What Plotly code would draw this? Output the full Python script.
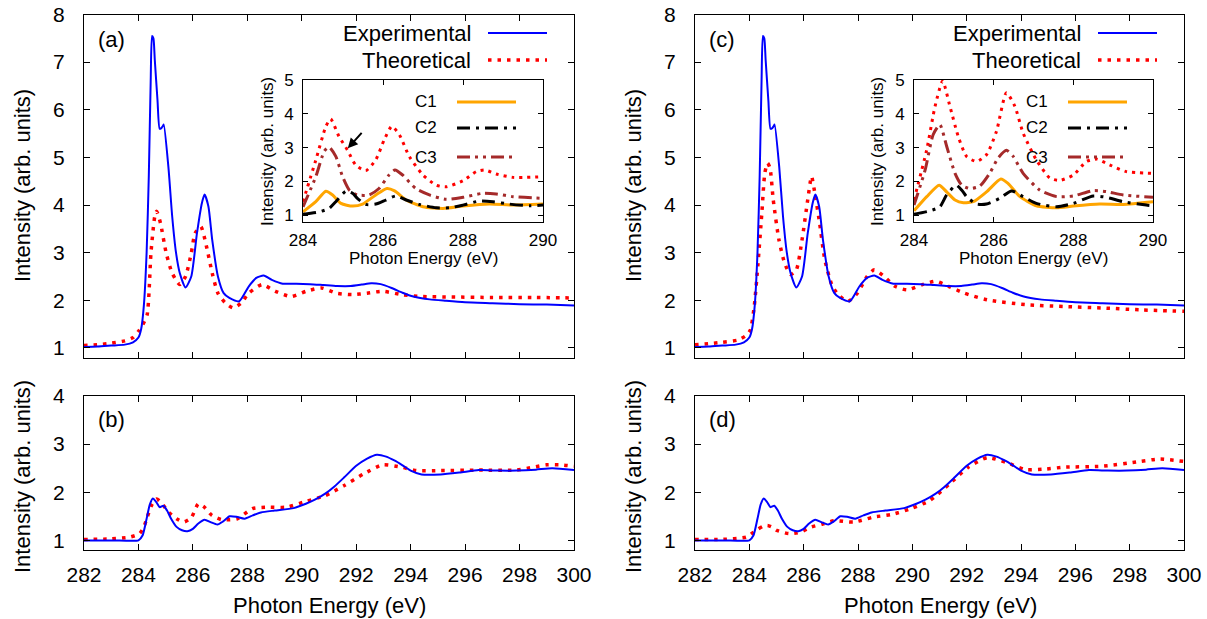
import plotly.graph_objects as go

# ---------------- data ----------------
# Experimental (same curve in panels a and c)
exp_top_x = [282, 282.5, 283, 283.5, 283.8, 284.0, 284.1, 284.2, 284.3, 284.38, 284.45, 284.5, 284.55,
             284.6, 284.7, 284.78, 284.85, 284.9, 284.93, 285.1, 285.24, 285.38, 285.52, 285.73, 285.94,
             286.15, 286.33, 286.43, 286.57, 286.71, 286.92, 287.13, 287.34, 287.7, 288.05, 288.33, 288.6,
             288.9, 289.3, 289.8, 290.3, 290.8, 291.3, 291.8, 292.2, 292.55, 292.9, 293.3, 293.7, 294.1,
             294.7, 295.3, 296, 297, 298, 299, 300]
exp_top_y = [1.02, 1.03, 1.05, 1.07, 1.12, 1.22, 1.40, 1.9, 3.0, 4.6, 6.6, 7.55, 7.5,
             7.05, 6.2, 5.6, 5.62, 5.66, 5.69, 4.8, 3.76, 3.0, 2.57, 2.27, 2.5,
             3.41, 4.04, 4.22, 3.97, 3.27, 2.5, 2.15, 2.05, 1.98, 2.29, 2.47, 2.52,
             2.43, 2.35, 2.35, 2.34, 2.32, 2.30, 2.30, 2.33, 2.36, 2.34, 2.26, 2.16, 2.08,
             2.02, 1.99, 1.96, 1.94, 1.92, 1.91, 1.89]

theo_a_x = [282, 282.5, 283, 283.5, 283.8, 284.0, 284.15, 284.32, 284.46, 284.6, 284.67, 284.81, 285.02,
            285.24, 285.52, 285.73, 285.94, 286.08, 286.29, 286.5, 286.71, 286.92, 287.2, 287.48, 287.77,
            288.05, 288.54, 289.03, 289.6, 290.16, 290.72, 291.28, 291.85, 292.4, 292.97, 293.67, 294.38,
            295.5, 297, 298.5, 300]
theo_a_y = [1.05, 1.07, 1.1, 1.15, 1.22, 1.35, 1.48, 1.7, 3.0, 3.76, 3.87, 3.62, 2.99,
            2.57, 2.33, 2.5, 2.99, 3.41, 3.55, 3.13, 2.57, 2.15, 1.94, 1.84, 1.94,
            2.15, 2.33, 2.19, 2.08, 2.19, 2.26, 2.15, 2.12, 2.15, 2.19, 2.12, 2.08,
            2.07, 2.06, 2.06, 2.05]

theo_c_x = [282, 282.5, 283, 283.6, 283.9, 284.04, 284.18, 284.32, 284.46, 284.57, 284.67, 284.76, 284.88,
            285.09, 285.3, 285.52, 285.73, 285.94, 286.15, 286.29, 286.43, 286.57, 286.78, 287.06, 287.34,
            287.63, 287.98, 288.33, 288.6, 288.96, 289.38, 289.8, 290.37, 290.86, 291.35, 291.92, 292.76,
            294.17, 295.57, 297, 298.4, 300]
theo_c_y = [1.07, 1.09, 1.12, 1.17, 1.27, 1.38, 1.87, 2.78, 3.83, 4.67, 4.88, 4.78, 4.11,
            3.27, 2.78, 2.54, 2.64, 3.27, 4.11, 4.6, 4.18, 3.69, 2.85, 2.29, 2.08,
            1.98, 2.15, 2.5, 2.64, 2.5, 2.29, 2.22, 2.33, 2.4, 2.29, 2.15, 2.01,
            1.91, 1.87, 1.84, 1.8, 1.77]

# Experimental (same curve in panels b and d)
exp_bot_x = [282, 283, 283.7, 284.0, 284.15, 284.3, 284.42, 284.53, 284.65, 284.78, 284.92, 285.05, 285.2,
             285.4, 285.6, 285.8, 286.0, 286.2, 286.43, 286.65, 286.9, 287.1, 287.35, 287.6, 287.9, 288.2,
             288.5, 289.0, 289.7, 290.15, 290.5, 290.86, 291.2, 291.56, 292.0, 292.4, 292.76, 293.1, 293.4,
             293.7, 294.0, 294.4, 295.1, 295.8, 296.5, 297.2, 297.9, 298.6, 299.2, 300]
exp_bot_y = [1.0, 1.0, 0.99, 1.0, 1.1, 1.45, 1.75, 1.87, 1.8, 1.69, 1.72, 1.62, 1.45,
             1.28, 1.21, 1.19, 1.24, 1.35, 1.43, 1.38, 1.33, 1.39, 1.5, 1.49, 1.45, 1.52,
             1.58, 1.62, 1.67, 1.76, 1.85, 1.97, 2.12, 2.31, 2.55, 2.7, 2.78, 2.74, 2.66,
             2.56, 2.45, 2.37, 2.37, 2.41, 2.46, 2.45, 2.45, 2.47, 2.5, 2.46]

theo_b_x = [282, 283, 283.7, 284.04, 284.2, 284.32, 284.5, 284.67, 284.85, 285.1, 285.4, 285.66, 285.94,
            286.2, 286.4, 286.7, 287.06, 287.63, 288.19, 288.75, 289.45, 290.15, 290.86, 291.56, 292.27,
            292.97, 293.67, 294.2, 295.1, 296.5, 297.9, 298.5, 299.0, 299.5, 300]
theo_b_y = [1.02, 1.03, 1.07, 1.14, 1.28, 1.48, 1.75, 1.86, 1.78, 1.59, 1.45, 1.38, 1.47,
            1.76, 1.7, 1.52, 1.43, 1.45, 1.66, 1.69, 1.69, 1.81, 1.93, 2.14, 2.38,
            2.57, 2.52, 2.45, 2.45, 2.46, 2.46, 2.52, 2.57, 2.57, 2.54]

theo_d_x = [282, 283, 283.9, 284.25, 284.5, 284.67, 284.85, 285.0, 285.45, 285.87, 286.29, 286.7, 287.13,
            287.84, 288.54, 289.25, 289.95, 290.65, 291.36, 292.06, 292.76, 293.46, 294.17, 294.87, 295.57,
            296.98, 298.38, 299.1, 300]
theo_d_y = [1.02, 1.02, 1.07, 1.21, 1.29, 1.31, 1.27, 1.21, 1.14, 1.17, 1.28, 1.34, 1.41,
            1.38, 1.48, 1.54, 1.66, 1.83, 2.17, 2.52, 2.72, 2.62, 2.47, 2.48, 2.52,
            2.54, 2.64, 2.69, 2.64]

# Inset (a)
ins_a_theo_x = [284, 284.32, 284.57, 284.69, 284.9, 285.11, 285.32, 285.57, 285.82, 286.03, 286.22, 286.41,
                286.66, 287.0, 287.33, 287.58, 288.0, 288.33, 288.54, 288.83, 289.25, 290]
ins_a_theo_y = [1.4, 2.63, 3.62, 3.85, 3.33, 2.93, 2.48, 2.32, 2.64, 3.23, 3.63, 3.38,
                2.73, 2.19, 1.89, 1.84, 2.02, 2.29, 2.34, 2.22, 2.12, 2.14]
ins_a_c1_x = [284, 284.32, 284.57, 284.74, 284.95, 285.24, 285.49, 285.82, 286.1, 286.29, 286.58, 287.0,
              287.5, 288.0, 288.66, 289.25, 290]
ins_a_c1_y = [1.1, 1.4, 1.71, 1.6, 1.35, 1.27, 1.33, 1.6, 1.79, 1.72, 1.45, 1.25,
              1.2, 1.27, 1.33, 1.3, 1.33]
ins_a_c2_x = [284, 284.4, 284.65, 284.82, 285.07, 285.24, 285.36, 285.57, 285.82, 286.07, 286.32, 286.58,
              286.91, 287.33, 287.66, 288.0, 288.41, 288.75, 289.16, 289.66, 290]
ins_a_c2_y = [1.03, 1.1, 1.2, 1.4, 1.71, 1.65, 1.5, 1.32, 1.33, 1.45, 1.57, 1.45,
              1.32, 1.22, 1.22, 1.3, 1.42, 1.4, 1.33, 1.28, 1.3]
ins_a_c3_x = [284, 284.32, 284.53, 284.65, 284.82, 284.99, 285.16, 285.36, 285.65, 285.9, 286.15, 286.3,
              286.49, 286.82, 287.16, 287.58, 288.0, 288.5, 288.83, 289.25, 290]
ins_a_c3_y = [1.25, 2.14, 2.89, 3.02, 2.74, 2.14, 1.74, 1.6, 1.6, 1.79, 2.19, 2.34,
              2.19, 1.79, 1.6, 1.47, 1.53, 1.65, 1.63, 1.55, 1.5]

# Inset (c)
ins_c_theo_x = [284, 284.32, 284.53, 284.72, 284.9, 285.11, 285.32, 285.57, 285.82, 286.07, 286.32, 286.53,
                286.74, 287.07, 287.41, 287.66, 288.0, 288.33, 288.58, 288.91, 289.33, 290]
ins_c_theo_y = [1.45, 2.94, 4.23, 4.97, 4.23, 3.33, 2.74, 2.59, 2.79, 3.48, 4.62, 4.23,
                3.43, 2.64, 2.1, 2.03, 2.19, 2.59, 2.66, 2.49, 2.29, 2.24]
ins_c_c1_x = [284, 284.32, 284.63, 284.82, 285.03, 285.24, 285.49, 285.82, 286.18, 286.36, 286.66, 287.07,
              287.58, 288.0, 288.66, 289.25, 290]
ins_c_c1_y = [1.13, 1.55, 1.89, 1.69, 1.45, 1.37, 1.4, 1.69, 2.07, 1.94, 1.55, 1.28,
              1.22, 1.27, 1.33, 1.32, 1.4]
ins_c_c2_x = [284, 284.4, 284.65, 284.82, 285.06, 285.2, 285.32, 285.57, 285.82, 286.15, 286.45, 286.74,
              287.07, 287.58, 288.0, 288.5, 288.83, 289.25, 289.83, 290]
ins_c_c2_y = [1.03, 1.13, 1.25, 1.6, 1.89, 1.74, 1.55, 1.33, 1.33, 1.5, 1.72, 1.55,
              1.35, 1.25, 1.35, 1.57, 1.53, 1.4, 1.3, 1.28]
ins_c_c3_x = [284, 284.28, 284.48, 284.65, 284.82, 285.03, 285.2, 285.4, 285.65, 285.9, 286.11, 286.32,
              286.49, 286.74, 287.16, 287.58, 288.0, 288.5, 288.83, 289.25, 290]
ins_c_c3_y = [1.3, 2.34, 3.38, 3.68, 3.04, 2.24, 1.89, 1.79, 1.86, 2.24, 2.69, 2.92,
              2.74, 2.24, 1.74, 1.55, 1.57, 1.73, 1.7, 1.6, 1.53]

main_xticks = [282, 284, 286, 288, 290, 292, 294, 296, 298, 300]
top_yticks = [1, 2, 3, 4, 5, 6, 7, 8]
bot_yticks = [1, 2, 3, 4]
inset_xticks = [284, 286, 288, 290]
inset_yticks = [1, 2, 3, 4, 5]

# ---------------- style ----------------
W, H = 1207, 619
FONT = "Liberation Sans, Arial, Helvetica, sans-serif"
BLUE = "#0000ff"
RED = "#ff0000"
ORANGE = "#ffa500"
BROWN = "#a52a2a"
RED_DASH = "3.5px,6px"
RED_DASH_IN = "3px,5px"
C2_DASH = "13px,6px,3px,6px"
C3_DASH = "13px,5px,3px,5px,3px,5px"


def px(xp):
    return xp / W


def py(yp):
    return 1 - yp / H


fig = go.Figure()


def add(x, y, axn, color, width, dash=None, smooth=0.6):
    xa = "x" if axn == 1 else f"x{axn}"
    ya = "y" if axn == 1 else f"y{axn}"
    fig.add_trace(go.Scatter(
        x=x, y=y, xaxis=xa, yaxis=ya, mode="lines",
        line=dict(color=color, width=width, dash=dash, shape="spline", smoothing=smooth),
        showlegend=False, hoverinfo="skip"))


# main panels
add(theo_a_x, theo_a_y, 1, RED, 3.5, RED_DASH)
add(exp_top_x, exp_top_y, 1, BLUE, 2)
add(theo_b_x, theo_b_y, 2, RED, 3.5, RED_DASH)
add(exp_bot_x, exp_bot_y, 2, BLUE, 2)
add(theo_c_x, theo_c_y, 3, RED, 3.5, RED_DASH)
add(exp_top_x, exp_top_y, 3, BLUE, 2)
add(theo_d_x, theo_d_y, 4, RED, 3.5, RED_DASH)
add(exp_bot_x, exp_bot_y, 4, BLUE, 2)
# insets
add(ins_a_theo_x, ins_a_theo_y, 5, RED, 3, RED_DASH_IN)
add(ins_a_c3_x, ins_a_c3_y, 5, BROWN, 3, C3_DASH)
add(ins_a_c1_x, ins_a_c1_y, 5, ORANGE, 3)
add(ins_a_c2_x, ins_a_c2_y, 5, "black", 3, C2_DASH)
add(ins_c_theo_x, ins_c_theo_y, 6, RED, 3, RED_DASH_IN)
add(ins_c_c3_x, ins_c_c3_y, 6, BROWN, 3, C3_DASH)
add(ins_c_c1_x, ins_c_c1_y, 6, ORANGE, 3)
add(ins_c_c2_x, ins_c_c2_y, 6, "black", 3, C2_DASH)


def axis(dom, rng, ticks, anchor, fs, showlabels=True, standoff=6, ticklen=6):
    return dict(domain=dom, range=rng, tickvals=ticks, anchor=anchor, showline=True,
                linecolor="black", linewidth=1, mirror="allticks", ticks="inside",
                ticklen=ticklen, tickcolor="black", tickwidth=1, showgrid=False,
                zeroline=False, showticklabels=showlabels, ticklabelstandoff=standoff,
                automargin=False,
                tickfont=dict(family=FONT, size=fs, color="black"))


XA_MAIN = [px(84), px(574)]
XC_MAIN = [px(695), px(1184)]
Y_TOP = [py(357.5), py(14.5)]
Y_BOT = [py(550), py(396)]

fig.update_layout(
    xaxis=axis(XA_MAIN, [282, 300], main_xticks, "y", 21, showlabels=False),
    yaxis=axis(Y_TOP, [0.8, 8], top_yticks, "x", 21, standoff=14),
    xaxis2=axis(XA_MAIN, [282, 300], main_xticks, "y2", 21, standoff=6),
    yaxis2=axis(Y_BOT, [0.8, 4], bot_yticks, "x2", 21, standoff=14),
    xaxis3=axis(XC_MAIN, [282, 300], main_xticks, "y3", 21, showlabels=False),
    yaxis3=axis(Y_TOP, [0.8, 8], top_yticks, "x3", 21, standoff=14),
    xaxis4=axis(XC_MAIN, [282, 300], main_xticks, "y4", 21, standoff=6),
    yaxis4=axis(Y_BOT, [0.8, 4], bot_yticks, "x4", 21, standoff=14),
    xaxis5=axis([px(303), px(543)], [284, 290], inset_xticks, "y5", 17, standoff=3, ticklen=5),
    yaxis5=axis([py(222), py(80)], [0.8, 5], inset_yticks, "x5", 17, standoff=5, ticklen=5),
    xaxis6=axis([px(914), px(1153)], [284, 290], inset_xticks, "y6", 17, standoff=3, ticklen=5),
    yaxis6=axis([py(222), py(80)], [0.8, 5], inset_yticks, "x6", 17, standoff=5, ticklen=5),
    width=W, height=H, margin=dict(l=0, r=0, t=0, b=0, pad=0, autoexpand=False),
    paper_bgcolor="white", plot_bgcolor="white",
    font=dict(family=FONT, color="black"),
    showlegend=False,
)

ann = []


def text(xp, yp, s, size, angle=0, xanchor="center"):
    ann.append(dict(x=px(xp), y=py(yp), xref="paper", yref="paper", text=s, showarrow=False,
                    textangle=angle, xanchor=xanchor, yanchor="middle",
                    font=dict(family=FONT, size=size, color="black")))


# axis titles
for cx in (22, 633):
    text(cx, 186, "Intensity (arb. units)", 22, -90)
    text(cx, 477, "Intensity (arb. units)", 22, -90)
text(329, 605, "Photon Energy (eV)", 22)
text(940, 605, "Photon Energy (eV)", 22)
# inset titles
text(268, 152, "Intensity (arb. units)", 17, -90)
text(878, 152, "Intensity (arb. units)", 17, -90)
text(423, 258, "Photon Energy (eV)", 17)
text(1033, 258, "Photon Energy (eV)", 17)
# panel labels
text(111, 39, "(a)", 22)
text(111, 420, "(b)", 22)
text(722, 39, "(c)", 22)
text(722, 420, "(d)", 22)

shapes = []


def sample(x0, x1, yp, color, width, dash=None):
    shapes.append(dict(type="line", xref="paper", yref="paper", x0=px(x0), x1=px(x1),
                       y0=py(yp), y1=py(yp), line=dict(color=color, width=width, dash=dash)))


# main legends
for right, lx0, lx1 in ((473, 488, 547), (1083, 1098, 1157)):
    text(right, 33, "Experimental", 22, xanchor="right")
    text(right, 60, "Theoretical", 22, xanchor="right")
    sample(lx0, lx1, 33, BLUE, 2)
    sample(lx0, lx1, 60, RED, 3.5, RED_DASH)

# inset legends
for right, lx0, lx1 in ((439, 457, 516), (1050, 1068, 1127)):
    text(right, 102, "C1", 17, xanchor="right")
    text(right, 128, "C2", 17, xanchor="right")
    text(right, 157, "C3", 17, xanchor="right")
    sample(lx0, lx1, 102, ORANGE, 3)
    sample(lx0, lx1, 128, "black", 3, C2_DASH)
    sample(lx0, lx1, 157, BROWN, 3, C3_DASH)

# arrow in inset (a)
ann.append(dict(x=285.12, y=2.98, ax=285.5, ay=3.48, xref="x5", yref="y5", axref="x5", ayref="y5",
                text="", showarrow=True, arrowhead=2, arrowsize=1, arrowwidth=2, arrowcolor="black"))

fig.update_layout(annotations=ann, shapes=shapes)

fig.write_html(
    "out.html",
    config={"displayModeBar": False},
    post_script="document.body.style.margin='0px';document.body.style.overflow='hidden';",
)
